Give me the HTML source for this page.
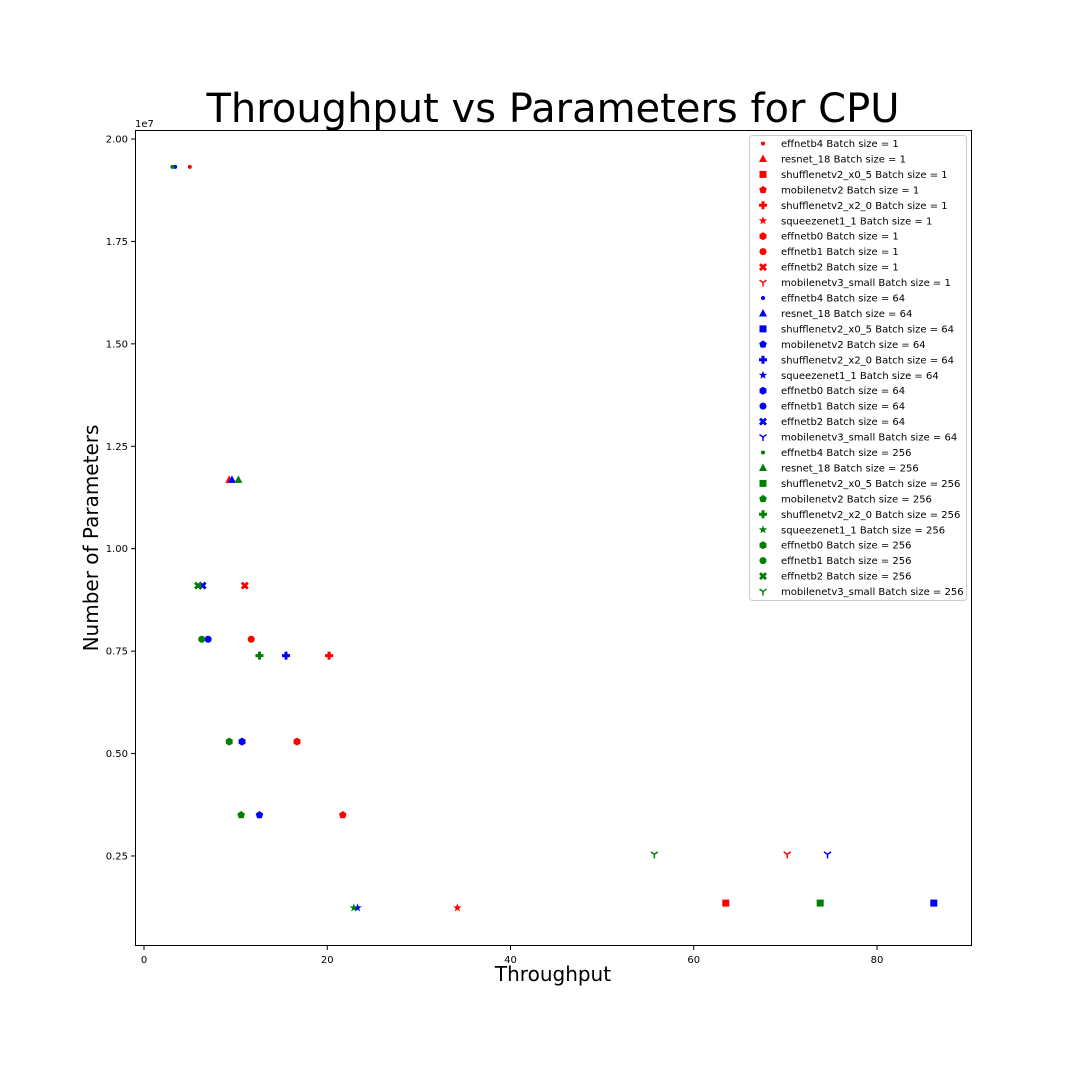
<!DOCTYPE html>
<html><head><meta charset="utf-8"><style>
html,body{margin:0;padding:0;background:#fff;}
svg text{font-family:"DejaVu Sans","Liberation Sans",sans-serif;}
</style></head><body>
<svg id="chart" width="1080" height="1080" xmlns="http://www.w3.org/2000/svg">
<rect width="1080" height="1080" fill="#fff"/>
<text x="553" y="122" font-size="40" text-anchor="middle">Throughput vs Parameters for CPU</text>
<g id="axes"></g>
<g id="marks"></g>
<g id="legend"></g>
</svg>
<script>
const models = ["effnetb4","resnet_18","shufflenetv2_x0_5","mobilenetv2","shufflenetv2_x2_0","squeezenet1_1","effnetb0","effnetb1","effnetb2","mobilenetv3_small"];
const markers = ["dot","tri","square","pent","plus","star","hex","circle","x","tridown"];
const params = [19.32e6,11.68e6,1.35e6,3.5e6,7.39e6,1.235e6,5.29e6,7.79e6,9.1e6,2.54e6];
const batches = ["1","64","256"];
const colors = ["red","blue","green"];
const thr1 = [5.0,9.3,63.5,21.7,20.2,34.2,16.7,11.7,11.0,70.2];
const thr64 = [3.4,9.6,86.2,12.6,15.5,23.3,10.7,7.0,6.4,74.6];
const thr256 = [3.1,10.3,73.8,10.6,12.6,22.9,9.3,6.3,5.9,55.7];
const xTicks = [0,20,40,60,80];
const yTicks = [0.25,0.5,0.75,1.0,1.25,1.5,1.75,2.0];
const yTickLabels = ["0.25","0.50","0.75","1.00","1.25","1.50","1.75","2.00"];
const NS="http://www.w3.org/2000/svg";
const X = v => 144 + v*9.1625;
const Y = v => 139 + (2.0e7 - v)/1e7*409.7;
function el(tag,attrs,parent){const e=document.createElementNS(NS,tag);for(const k in attrs)e.setAttribute(k,attrs[k]);parent.appendChild(e);return e;}
function poly(n,r,rot){let p=[];for(let i=0;i<n;i++){const a=rot+i*2*Math.PI/n;p.push((r*Math.cos(a)).toFixed(2)+","+(r*Math.sin(a)).toFixed(2));}return p.join(" ");}
function star(r){let p=[];for(let i=0;i<10;i++){const a=-Math.PI/2+i*Math.PI/5;const rr=i%2?r*0.4:r;p.push((rr*Math.cos(a)).toFixed(2)+","+(rr*Math.sin(a)).toFixed(2));}return p.join(" ");}
function marker(type,cx,cy,color,parent){
  const g=el("g",{transform:`translate(${cx},${cy})`,fill:color},parent);
  switch(type){
    case "dot":el("circle",{r:2},g);break;
    case "circle":el("circle",{r:3.5},g);break;
    case "tri":el("polygon",{points:"0,-4.5 4,3 -4,3"},g);break;
    case "square":el("rect",{x:-3.5,y:-3.5,width:7,height:7},g);break;
    case "pent":el("polygon",{points:poly(5,4,-Math.PI/2)},g);break;
    case "hex":el("polygon",{points:poly(6,4,-Math.PI/2)},g);break;
    case "star":el("polygon",{points:star(4.5)},g);break;
    case "plus":el("polygon",{points:"-1.5,-4 1.5,-4 1.5,-1.5 4,-1.5 4,1.5 1.5,1.5 1.5,4 -1.5,4 -1.5,1.5 -4,1.5 -4,-1.5 -1.5,-1.5"},g);break;
    case "x":el("polygon",{points:"-4,-2 -2,-4 0,-2 2,-4 4,-2 2,0 4,2 2,4 0,2 -2,4 -4,2 -2,0"},g);break;
    case "tridown":el("path",{d:"M0,0 L0,4 M0,0 L-3.5,-2.5 M0,0 L3.5,-2.5",stroke:color,"stroke-width":1.5,fill:"none"},g);break;
  }
  return g;
}
const axes=document.getElementById("axes");
const frame=el("rect",{x:135.5,y:130.5,width:836,height:815,fill:"none",stroke:"#000","stroke-width":1},axes);


xTicks.forEach(t=>{
  el("line",{x1:X(t),x2:X(t),y1:945.5,y2:950,stroke:"#000"},axes);
  const tx=el("text",{x:X(t),y:963,"font-size":10,"text-anchor":"middle"},axes);
  tx.textContent=t;
  
  
});
yTicks.forEach((t,i)=>{
  const y=Y(t*1e7);
  el("line",{x1:131,x2:135.5,y1:y,y2:y,stroke:"#000"},axes);
  const tx=el("text",{x:128,y:y+3.5,"font-size":10,"text-anchor":"end"},axes);
  tx.textContent=yTickLabels[i];
  
  
});
let off=el("text",{x:135,y:127,"font-size":10},axes);off.textContent="1e7";


let xl=el("text",{x:553,y:981,"font-size":20,"text-anchor":"middle"},axes);xl.textContent="Throughput";


let yl=el("text",{x:98,y:538,"font-size":20,"text-anchor":"middle",transform:"rotate(-90 98 538)"},axes);yl.textContent="Number of Parameters";


const marks=document.getElementById("marks");
const series=[thr1,thr64,thr256];
series.forEach((arr,b)=>{
  arr.forEach((v,i)=>{
    const m=marker(markers[i],X(v),Y(params[i]),colors[b],marks);
    
    
  });
});
const lg=document.getElementById("legend");
const box=el("rect",{x:749.5,y:135.5,width:217,height:465,rx:3,fill:"#fff",stroke:"#ccc"},lg);


let k=0;
batches.forEach((b,bi)=>{
  models.forEach((m,i)=>{
    const y=143.5+k*15.45;
    const g=el("g",{},lg);
    
    
    marker(markers[i],763,y,colors[bi],g);
    const t=el("text",{x:781,y:y+3.5,"font-size":10},g);
    t.textContent=m+" Batch size = "+b;
    k++;
  });
});
</script>
</body></html>
